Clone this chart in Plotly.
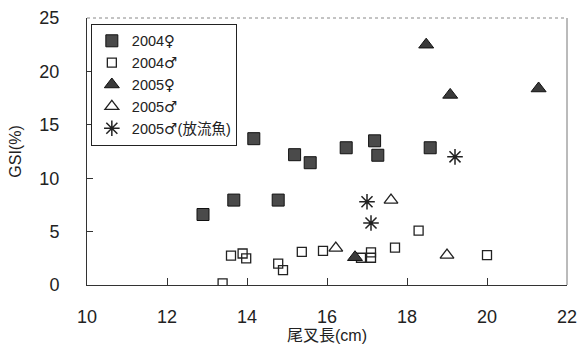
import plotly.graph_objects as go

f04_x = [12.9, 13.67, 14.17, 14.78, 15.19, 15.58, 16.48, 17.19, 17.27, 18.58]
f04_y = [6.6, 7.95, 13.7, 7.95, 12.2, 11.45, 12.85, 13.5, 12.15, 12.85]

m04_x = [13.39, 13.6, 13.89, 13.98, 14.78, 14.9, 15.37, 15.9, 16.85, 17.1, 17.1, 17.7, 18.29, 20.0]
m04_y = [0.15, 2.75, 2.95, 2.5, 2.0, 1.4, 3.1, 3.2, 2.55, 3.05, 2.55, 3.5, 5.1, 2.8]

f05_x = [16.7, 18.48, 19.08, 21.29]
f05_y = [2.6, 22.5, 17.8, 18.4]

m05_x = [16.22, 17.6, 19.0]
m05_y = [3.45, 7.95, 2.8]

r05_x = [17.0, 17.1, 19.2]
r05_y = [7.8, 5.8, 12.0]

FEM = "<span style='font-family:DejaVu Sans;font-size:15px'>♀</span>"
MAL = "<span style='font-family:DejaVu Sans;font-size:15px'>♂</span>"
names = ["2004" + FEM, "2004" + MAL, "2005" + FEM, "2005" + MAL, "2005" + MAL + "(放流魚)"]
xticks = [10, 12, 14, 16, 18, 20, 22]
yticks = [0, 5, 10, 15, 20, 25]

FONT = "Liberation Sans, Arial, DejaVu Sans, Noto Sans CJK JP"

fig = go.Figure()
fig.add_trace(go.Scatter(x=f04_x, y=f04_y, mode="markers", name=names[0],
                         marker=dict(symbol="square", size=12, color="#4a4a4a",
                                     line=dict(color="#111", width=1))))
fig.add_trace(go.Scatter(x=m04_x, y=m04_y, mode="markers", name=names[1],
                         marker=dict(symbol="square-open", size=9, color="#222",
                                     line=dict(color="#222", width=1.3))))
fig.add_trace(go.Scatter(x=f05_x, y=f05_y, mode="markers", name=names[2],
                         marker=dict(symbol="triangle-up", size=13, color="#3a3a3a",
                                     line=dict(color="#111", width=1))))
fig.add_trace(go.Scatter(x=m05_x, y=m05_y, mode="markers", name=names[3],
                         marker=dict(symbol="triangle-up-open", size=12, color="#222",
                                     line=dict(color="#222", width=1.3))))
fig.add_trace(go.Scatter(x=r05_x, y=r05_y, mode="markers", name=names[4],
                         marker=dict(symbol="asterisk-open", size=13, color="#222",
                                     line=dict(color="#222", width=1.5))))

fig.update_layout(
    width=579, height=358,
    margin=dict(l=87, r=12, t=18, b=73),
    paper_bgcolor="white", plot_bgcolor="white",
    font=dict(family=FONT, color="#222", size=16),
    showlegend=True,
    legend=dict(x=0.008, y=0.978, xanchor="left", yanchor="top",
                bordercolor="#222", borderwidth=1, bgcolor="white",
                font=dict(size=14.5, family=FONT), itemwidth=30,
                tracegroupgap=0),
    shapes=[
        dict(type="line", xref="paper", yref="paper", x0=0, x1=1, y0=1, y1=1,
             line=dict(color="#888", width=1, dash="dot")),
        dict(type="line", xref="paper", yref="paper", x0=1, x1=1, y0=0, y1=1,
             line=dict(color="#777", width=1)),
    ],
)
fig.update_xaxes(range=[10, 22], tickvals=xticks, ticks="inside", ticklen=7,
                 tickcolor="#333", showgrid=False, zeroline=False,
                 showline=True, linecolor="#333", linewidth=1, mirror=False,
                 tickfont=dict(size=18), ticklabelstandoff=15, automargin=False,
                 title=dict(text="尾叉長(cm)", font=dict(size=16), standoff=3))
fig.update_yaxes(range=[0, 25], tickvals=yticks, ticks="inside", ticklen=6,
                 tickcolor="#333", showgrid=False, zeroline=False,
                 showline=True, linecolor="#333", linewidth=1, mirror=False,
                 tickfont=dict(size=18), ticklabelstandoff=23, automargin=False,
                 title=dict(text="GSI(%)", font=dict(size=16), standoff=13))

fig.write_html("out.html", config={"displayModeBar": False},
               post_script="document.body.style.margin='0';document.body.style.overflow='hidden';")
